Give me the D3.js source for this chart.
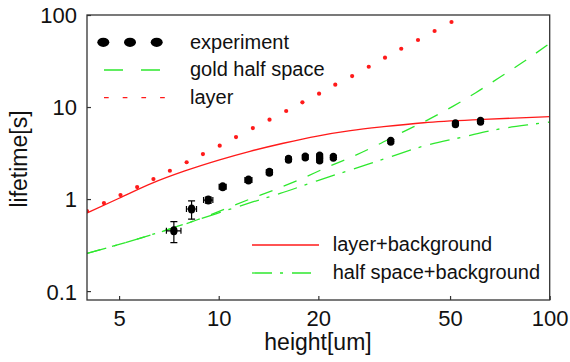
<!DOCTYPE html>
<html>
<head>
<meta charset="utf-8">
<script src="https://cdn.jsdelivr.net/npm/d3@7"></script>
<style>
  body { margin: 0; background: #fff; }
  svg { display: block; font-family: "Liberation Sans", Arial, Helvetica, sans-serif; }
</style>
</head>
<body>
<div id="chart"></div>
<script>
// experiment points (height in um, lifetime in s)
const expX = [7.32, 8.28, 9.30, 10.28, 12.3, 14.23, 16.25, 18.26, 20.18, 20.18, 22.2, 33.1, 51.9, 61.8];
const expY = [0.452, 0.78, 0.975, 1.36, 1.61, 1.96, 2.70, 2.86, 2.93, 2.65, 2.84, 4.24, 6.58, 6.99];
const expXErr = [0.37, 0.29, 0.30, 0.25, 0.3, 0.3, 0.3, 0.3, 0.3, 0.3, 0.3, 0.4, 0.6, 0.6];
const expYErr = [0.116, 0.175, 0.075, 0.07, 0.08, 0.1, 0.13, 0.14, 0.14, 0.13, 0.14, 0.2, 0.3, 0.35];

// "layer" (red dots)
const layerX = [4.0, 4.5, 5.05, 5.67, 6.35, 7.12, 8.0, 8.96, 10.07, 11.28, 12.68, 14.24, 15.99, 17.9, 20.1, 22.5, 25.3, 28.4, 31.8, 35.6, 40.0, 44.9, 50.5];
const layerY = [0.741, 0.905, 1.105, 1.35, 1.65, 2.03, 2.51, 3.08, 3.80, 4.72, 5.91, 7.28, 9.05, 11.25, 13.95, 17.5, 21.7, 27.4, 34.4, 43.0, 53.5, 67.0, 83.9];

// "gold half space" (green dashed)
const halfX = [4.0, 5.77, 8.58, 12.43, 14.81, 17.63, 21.23, 25.3, 30.1, 35.8, 42.7, 50.8, 59.8, 70.3, 82.9, 100];
const halfY = [0.257, 0.374, 0.592, 1.0, 1.27, 1.64, 2.21, 2.88, 3.86, 5.31, 7.22, 10.1, 14.3, 20.8, 30.6, 49.3];

// "layer+background" (red solid)
const layerBgX = [4.0, 5.0, 6.27, 7.90, 10.0, 12.43, 15.67, 19.86, 25.0, 31.5, 41.6, 63.2, 100];
const layerBgY = [0.705, 1.02, 1.48, 2.02, 2.65, 3.30, 4.04, 4.84, 5.53, 6.11, 6.75, 7.35, 7.85];

// "half space+background" (green dash-dot)
const halfBgX = [4.0, 5.77, 8.58, 12.73, 15.33, 19.82, 25.0, 33.0, 41.7, 55.1, 69.5, 89.5, 100];
const halfBgY = [0.257, 0.374, 0.592, 0.935, 1.15, 1.58, 2.07, 2.88, 3.77, 4.75, 5.72, 6.53, 6.87];

const xTicks = [5, 10, 20, 50, 100];
const yTicks = [0.1, 1, 10, 100];

const red = "#ff1a1a";
const green = "#2ee82e";

function init() {
    var w = 570;
    var h = 362;
    var left = 87, right = 549.7, top = 15, bottom = 300;

    var svg = d3.select("#chart")
                .append("svg")
                .attr("width", w)
                .attr("height", h);

    var xScale = d3.scaleLog().domain([4, 100]).range([left, right]);
    var yScale = d3.scaleLog().domain([0.08, 100]).range([bottom, top]);

    svg.append("clipPath").attr("id", "plotclip")
        .append("rect")
        .attr("x", left).attr("y", top)
        .attr("width", right - left).attr("height", bottom - top);

    var plot = svg.append("g").attr("clip-path", "url(#plotclip)");

    var line = d3.line()
        .x(d => xScale(d[0]))
        .y(d => yScale(d[1]))
        .curve(d3.curveMonotoneX);

    // gold half space
    plot.append("path")
        .datum(d3.zip(halfX, halfY))
        .attr("fill", "none")
        .attr("stroke", green)
        .attr("stroke-width", 1.3)
        .attr("stroke-dasharray", "14,12")
        .attr("d", line);

    // half space + background
    plot.append("path")
        .datum(d3.zip(halfBgX, halfBgY))
        .attr("fill", "none")
        .attr("stroke", green)
        .attr("stroke-width", 1.3)
        .attr("stroke-dasharray", "20,8,3,9")
        .attr("d", line);

    // layer + background
    plot.append("path")
        .datum(d3.zip(layerBgX, layerBgY))
        .attr("fill", "none")
        .attr("stroke", red)
        .attr("stroke-width", 1.3)
        .attr("d", line);

    // layer dots
    plot.selectAll(".layerdot")
        .data(d3.zip(layerX, layerY))
        .enter()
        .append("circle")
        .attr("class", "layerdot")
        .attr("cx", d => xScale(d[0]))
        .attr("cy", d => yScale(d[1]))
        .attr("r", 2.1)
        .attr("fill", red);

    // experiment: error bars + markers
    var exp = expX.map((x, i) => ({x: x, y: expY[i], ex: expXErr[i], ey: expYErr[i]}));
    var eg = plot.selectAll(".exp")
        .data(exp)
        .enter()
        .append("g")
        .attr("class", "exp")
        .attr("stroke", "#000")
        .attr("stroke-width", 1.2);

    eg.append("line") // vertical bar
        .attr("x1", d => xScale(d.x)).attr("x2", d => xScale(d.x))
        .attr("y1", d => yScale(d.y - d.ey)).attr("y2", d => yScale(d.y + d.ey));
    eg.append("line") // top cap
        .attr("x1", d => xScale(d.x) - 3.5).attr("x2", d => xScale(d.x) + 3.5)
        .attr("y1", d => yScale(d.y + d.ey)).attr("y2", d => yScale(d.y + d.ey));
    eg.append("line") // bottom cap
        .attr("x1", d => xScale(d.x) - 3.5).attr("x2", d => xScale(d.x) + 3.5)
        .attr("y1", d => yScale(d.y - d.ey)).attr("y2", d => yScale(d.y - d.ey));
    eg.append("line") // horizontal bar
        .attr("x1", d => xScale(d.x - d.ex)).attr("x2", d => xScale(d.x + d.ex))
        .attr("y1", d => yScale(d.y)).attr("y2", d => yScale(d.y));
    eg.append("line") // left cap
        .attr("x1", d => xScale(d.x - d.ex)).attr("x2", d => xScale(d.x - d.ex))
        .attr("y1", d => yScale(d.y) - 3).attr("y2", d => yScale(d.y) + 3);
    eg.append("line") // right cap
        .attr("x1", d => xScale(d.x + d.ex)).attr("x2", d => xScale(d.x + d.ex))
        .attr("y1", d => yScale(d.y) - 3).attr("y2", d => yScale(d.y) + 3);
    eg.append("ellipse")
        .attr("cx", d => xScale(d.x))
        .attr("cy", d => yScale(d.y))
        .attr("rx", 3.7).attr("ry", 4.5)
        .attr("fill", "#000")
        .attr("stroke", "none");

    // axes (ticks inward)
    var xAxis = d3.axisBottom(xScale)
        .tickValues(xTicks)
        .tickFormat(d3.format("d"))
        .tickSizeInner(-4)
        .tickSizeOuter(0);

    var yAxis = d3.axisLeft(yScale)
        .tickValues(yTicks)
        .tickFormat(d => String(d))
        .tickSizeInner(-4)
        .tickSizeOuter(0);

    var gx = svg.append("g")
        .attr("transform", "translate(0," + bottom + ")")
        .call(xAxis);
    gx.selectAll("text")
        .attr("y", 26).attr("dy", 0)
        .style("font-size", "22px")
        .attr("fill", "#111");

    var gy = svg.append("g")
        .attr("transform", "translate(" + left + ",0)")
        .call(yAxis);
    gy.selectAll("text")
        .attr("x", -10).attr("dy", "0.36em")
        .style("font-size", "22px")
        .attr("fill", "#111");

    svg.selectAll(".domain").remove();
    svg.selectAll(".tick line").attr("stroke", "#333").attr("stroke-width", 1.2);

    // frame
    svg.append("rect")
        .attr("x", left).attr("y", top)
        .attr("width", right - left).attr("height", bottom - top)
        .attr("fill", "none")
        .attr("stroke", "#333")
        .attr("stroke-width", 1.3);

    // axis titles
    svg.append("text")
        .attr("text-anchor", "middle")
        .attr("x", 318)
        .attr("y", 350)
        .style("font-size", "23px")
        .attr("fill", "#111")
        .text("height[um]");

    svg.append("text")
        .attr("text-anchor", "middle")
        .attr("transform", "translate(27,159) rotate(-90)")
        .style("font-size", "23px")
        .attr("fill", "#111")
        .text("lifetime[s]");

    // legend (top left)
    var leg = svg.append("g").style("font-size", "20px").attr("fill", "#111");

    [103.3, 130, 156.7].forEach(cx => {
        leg.append("ellipse")
            .attr("cx", cx).attr("cy", 42.3)
            .attr("rx", 6).attr("ry", 4.6)
            .attr("fill", "#000");
    });
    leg.append("text").attr("x", 190).attr("y", 48.5).text("experiment");

    leg.append("line")
        .attr("x1", 104).attr("x2", 160).attr("y1", 70).attr("y2", 70)
        .attr("stroke", green).attr("stroke-width", 1.3)
        .attr("stroke-dasharray", "19,18");
    leg.append("text").attr("x", 190).attr("y", 76).text("gold half space");

    leg.append("line")
        .attr("x1", 104).attr("x2", 165).attr("y1", 97.7).attr("y2", 97.7)
        .attr("stroke", red).attr("stroke-width", 1.3)
        .attr("stroke-dasharray", "4.7,14");
    leg.append("text").attr("x", 190).attr("y", 103.5).text("layer");

    // legend (bottom right)
    leg.append("line")
        .attr("x1", 252).attr("x2", 319).attr("y1", 245).attr("y2", 245)
        .attr("stroke", red).attr("stroke-width", 1.3);
    leg.append("text").attr("x", 332.7).attr("y", 251).text("layer+background");

    leg.append("line")
        .attr("x1", 252).attr("x2", 311).attr("y1", 273).attr("y2", 273)
        .attr("stroke", green).attr("stroke-width", 1.3)
        .attr("stroke-dasharray", "20,8,3,9");
    leg.append("text").attr("x", 332.7).attr("y", 278.5).text("half space+background");
}

window.onload = init;
</script>
</body>
</html>
